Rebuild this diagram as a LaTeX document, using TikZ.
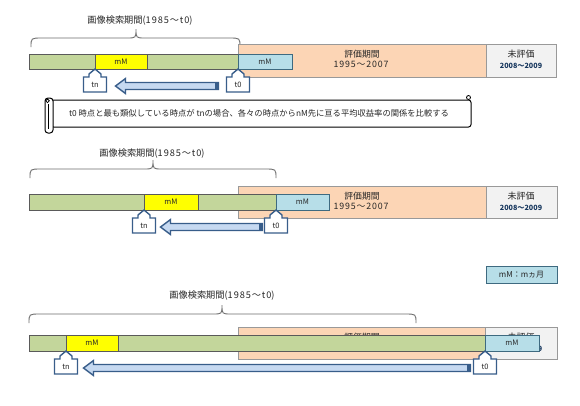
\documentclass[tikz,border=0pt]{standalone}
\usepackage{fontspec}
\setmainfont{Noto Sans CJK JP}
\usetikzlibrary{calc}
\definecolor{grn}{HTML}{C3D69B}
\definecolor{yel}{HTML}{FFFF00}
\definecolor{org}{HTML}{FCD5B5}
\definecolor{aqua}{HTML}{B7DEE8}
\definecolor{gry}{HTML}{F2F2F2}
\definecolor{navy}{HTML}{385D8A}
\definecolor{arrfill}{HTML}{C6D9F1}
\definecolor{edge}{HTML}{5A5A5A}
\definecolor{aquaedge}{HTML}{3E6A80}
\definecolor{txt}{HTML}{262626}
\definecolor{yrcol}{HTML}{17375E}
\definecolor{bracecol}{HTML}{6E6E6E}
\newcommand\fsz[1]{\fontsize{#1}{#1}\selectfont}
\newcommand\wideyr[1]{{\addfontfeature{LetterSpace=10}#1}}
\tikzset{
  box/.style={draw=edge, line width=0.8pt, inner sep=0pt, outer sep=0pt, anchor=north west, text=txt},
  brace/.style={draw=bracecol, line width=0.9pt},
  ptr/.style={draw=navy, fill=white, line width=1.4pt, line join=miter},
  arr/.style={draw=navy, fill=arrfill, line width=1.4pt, line join=miter},
  scrl/.style={draw=black, fill=white, line width=1pt},
  lbl/.style={inner sep=0pt, text=txt},
}
% \boxat{name}{x1}{y1}{x2}{y2}{style}{text}
\newcommand\boxat[7]{\node[box, #6, minimum width={(#4-#2)*1pt}, minimum height={(#5-#3)*1pt}] (#1) at (#2,#3) {#7};}
% \mkpointer{name}{x}{ytip}{text}
\newcommand\mkpointer[4]{%
  \node[inner sep=0pt, outer sep=0pt, minimum width=23pt, minimum height=15pt, anchor=north] (#1) at (#2,#3+8) {};
  \draw[ptr] (#1.south west) -- (#1.north west) -- ($(#1.north)+(-6,0)$) -- ($(#1.north)+(-6,-3)$) -- (#2,#3)
     -- ($(#1.north)+(6,-3)$) -- ($(#1.north)+(6,0)$) -- (#1.north east) -- (#1.south east) -- cycle;
  \node[lbl, font=\fsz{7.5}] (#1-t) at (#1) {#4};}
% \blockarrow{tip}{tail}
\newcommand\blockarrow[2]{%
  \draw[arr] (#1) -- ($(#1)+(10,-7.5)$) -- ($(#1)+(10,-3.5)$) -- ($(#2)+(0,-3.5)$) -- ($(#2)+(0,3.5)$)
     -- ($(#1)+(10,3.5)$) -- ($(#1)+(10,7.5)$) -- cycle;
  \fill[navy] ($(#2)+(-3.5,-3.5)$) rectangle ($(#2)+(0,3.5)$);}
% \mkbrace{x1}{x2}{xm}{yend}
\newcommand\mkbrace[4]{%
  \draw[brace] (#1,#4) .. controls (#1,#4-9) .. (#1+11,#4-9) -- (#3-9,#4-9) .. controls (#3,#4-9) .. (#3,#4-18)
     .. controls (#3,#4-9) .. (#3+9,#4-9) -- (#2-11,#4-9) .. controls (#2,#4-9) .. (#2,#4);}
\begin{document}
\begin{tikzpicture}[x=1pt,y=-1pt]
\useasboundingbox[fill=white] (0,0) rectangle (580,405);

%%%%%%%%%%%%%%%% panel 1
\node[lbl, font=\fsz{9.2}] (lab1) at (140,21) {画像検索期間(\wideyr{1985～t0})};
\mkbrace{31}{240}{136}{47}
\boxat{or1}{238}{44}{486}{77}{fill=org, draw=gray!80}{}
\boxat{gr1}{486}{44}{556}{77}{fill=gry, draw=gray!80}{}
\node[lbl, font=\fsz{8.8}] (ev1) at (362,54) {評価期間};
\node[lbl, font=\fsz{8.8}] (yr1) at (361,64) {\wideyr{1995～2007}};
\node[lbl, font=\fsz{9}] (ne1) at (521,54) {未評価};
\node[lbl, font=\bfseries\fsz{7.2}, text=yrcol] (ny1) at (521,66) {2008～2009};
\boxat{bar1}{29}{54}{238}{69}{fill=grn}{}
\boxat{y1}{95}{54}{147}{69}{fill=yel, font=\fsz{7.5}}{mM}
\boxat{b1}{238}{54}{292}{69}{fill=aqua, draw=aquaedge, font=\fsz{7.5}}{mM}
\mkpointer{tn1}{95}{69}{tn}
\mkpointer{t01}{238}{69}{t0}
\coordinate (h1) at ($(tn1.east)+(9,1.5)$);
\coordinate (e1) at ($(t01.west)+(-8,1.5)$);
\blockarrow{h1}{e1}

% scroll
\filldraw[scrl, rounded corners=2.5pt] (51,100) rectangle (471,127);
\filldraw[scrl, rounded corners=3pt] (45,98) rectangle (53,133);
\draw[black, line width=0.8pt] (48.5,104) -- (48.5,129);
\filldraw[scrl, line width=0.8pt] (47.5,100.8) circle (1.8);
\filldraw[scrl, line width=0.8pt] (468.5,97.5) circle (2);
\node[lbl, font=\fsz{8.3}] (scrolltext) at (259,113.5) {t0 時点と最も類似している時点が tnの場合、各々の時点からnM先に亘る平均収益率の関係を比較する};

%%%%%%%%%%%%%%%% panel 2
\node[lbl, font=\fsz{9.2}] (lab2) at (152,154) {画像検索期間(\wideyr{1985～t0})};
\mkbrace{30}{276}{153}{178}
\boxat{or2}{238}{186}{486}{218}{fill=org, draw=gray!80}{}
\boxat{gr2}{486}{186}{557}{218}{fill=gry, draw=gray!80}{}
\node[lbl, font=\fsz{8.8}] (ev2) at (362,196) {評価期間};
\node[lbl, font=\fsz{8.8}] (yr2) at (361,206) {\wideyr{1995～2007}};
\node[lbl, font=\fsz{9}] (ne2) at (521,196) {未評価};
\node[lbl, font=\bfseries\fsz{7.2}, text=yrcol] (ny2) at (521,208) {2008～2009};
\boxat{bar2}{29}{194}{276}{210}{fill=grn}{}
\boxat{y2}{144}{194}{198}{210}{fill=yel, font=\fsz{7.5}}{mM}
\boxat{b2}{276}{194}{329}{210}{fill=aqua, draw=aquaedge, font=\fsz{7.5}}{mM}
\mkpointer{tn2}{144}{210}{tn}
\mkpointer{t02}{276}{210}{t0}
\coordinate (h2) at ($(tn2.east)+(5,1.5)$);
\coordinate (e2) at ($(t02.west)+(-2,1.5)$);
\blockarrow{h2}{e2}

\boxat{leg}{486}{266}{557}{283}{fill=aqua, draw=aquaedge, font=\fsz{8}}{mM：mヵ月}

%%%%%%%%%%%%%%%% panel 3
\node[lbl, font=\fsz{9.2}] (lab3) at (222,296) {画像検索期間(\wideyr{1985～t0})};
\mkbrace{29}{416}{222}{323}
\boxat{or3}{238}{327}{485}{359}{fill=org, draw=gray!80}{}
\boxat{gr3}{485}{327}{557}{359}{fill=gry, draw=gray!80}{}
\node[lbl, font=\fsz{8.8}] (ev3) at (362,337) {評価期間};
\node[lbl, font=\fsz{8.8}] (yr3) at (361,347) {\wideyr{1995～2007}};
\node[lbl, font=\fsz{9}] (ne3) at (521,337) {未評価};
\node[lbl, font=\bfseries\fsz{7.2}, text=yrcol] (ny3) at (521,349) {2008～2009};
\boxat{bar3}{29}{335}{485}{351}{fill=grn}{}
\boxat{y3}{66}{335}{118}{351}{fill=yel, font=\fsz{7.5}}{mM}
\boxat{b3}{485}{335}{539}{351}{fill=aqua, draw=aquaedge, font=\fsz{7.5}}{mM}
\mkpointer{tn3}{66}{351}{tn}
\mkpointer{t03}{485}{351}{t0}
\coordinate (h3) at ($(tn3.east)+(6,1.5)$);
\coordinate (e3) at ($(t03.west)+(-3,1.5)$);
\blockarrow{h3}{e3}
\end{tikzpicture}
\end{document}
